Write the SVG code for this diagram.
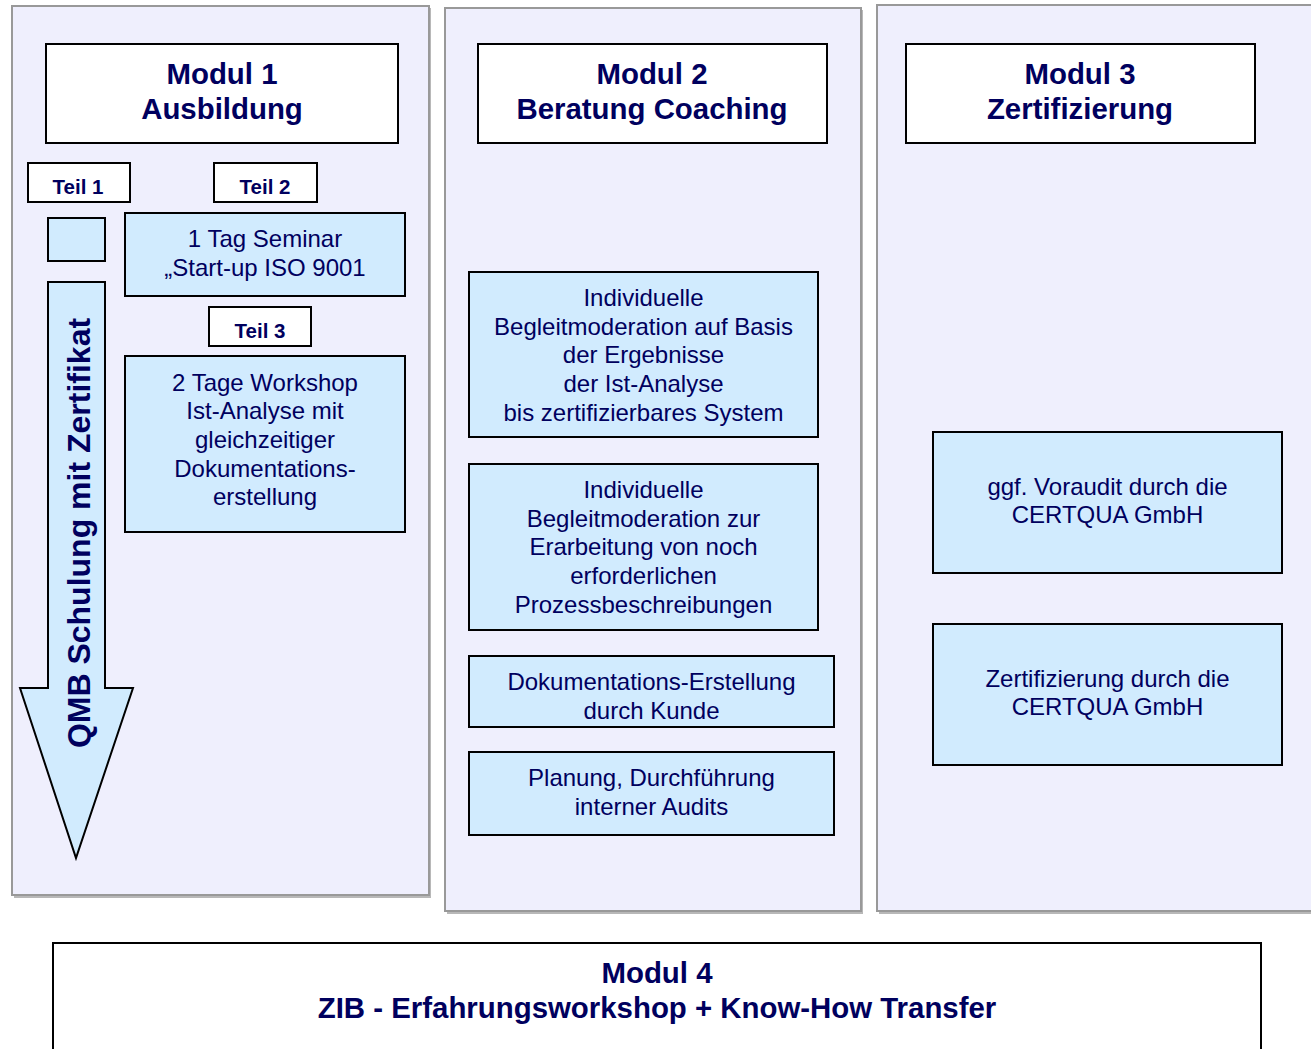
<svg xmlns="http://www.w3.org/2000/svg" width="1311" height="1049" viewBox="0 0 1311 1049">
<style>
.panel{fill:#EFEFFD;stroke:#999999;stroke-width:2}
.shadow{fill:#B8B8B8}
.head{fill:#FFFFFF;stroke:#000000;stroke-width:2}
.box{fill:#D1EBFE;stroke:#000000;stroke-width:2}
.h{font-family:"Liberation Sans",Arial,sans-serif;font-weight:bold;font-size:29.4px;fill:#00005E;text-anchor:middle}
.t{font-family:"Liberation Sans",Arial,sans-serif;font-weight:bold;font-size:20.5px;fill:#00005E;text-anchor:middle}
.b{font-family:"Liberation Sans",Arial,sans-serif;font-size:24px;fill:#00005E;text-anchor:middle}
.v{font-family:"Liberation Sans",Arial,sans-serif;font-weight:bold;font-size:32px;fill:#00005E;text-anchor:middle}
</style>
<rect width="1311" height="1049" fill="#FFFFFF"/>
<g id="panel1">
<rect class="shadow" x="14" y="8" width="417" height="890"/>
<rect class="panel" x="12" y="6" width="417" height="889"/>
</g>
<g id="panel2">
<rect class="shadow" x="447" y="10" width="416" height="904"/>
<rect class="panel" x="445" y="8" width="416" height="903"/>
</g>
<g id="panel3">
<rect class="shadow" x="879" y="7" width="440" height="907"/>
<rect class="panel" x="877" y="5" width="440" height="906"/>
</g>
<g id="modul1">
<rect class="head" x="46" y="44" width="352" height="99"/>
<text class="h" x="222" y="84">Modul 1</text>
<text class="h" x="222" y="119">Ausbildung</text>
</g>
<g id="modul2">
<rect class="head" x="478" y="44" width="349" height="99"/>
<text class="h" x="652" y="84">Modul 2</text>
<text class="h" x="652" y="119">Beratung Coaching</text>
</g>
<g id="modul3">
<rect class="head" x="906" y="44" width="349" height="99"/>
<text class="h" x="1080" y="84">Modul 3</text>
<text class="h" x="1080" y="119">Zertifizierung</text>
</g>
<g id="teil1">
<rect class="head" x="28" y="163" width="102" height="39"/>
<text class="t" x="78" y="194">Teil 1</text>
</g>
<g id="teil2">
<rect class="head" x="214" y="163" width="103" height="39"/>
<text class="t" x="265" y="194">Teil 2</text>
</g>
<g id="teil3">
<rect class="head" x="209" y="307" width="102" height="39"/>
<text class="t" x="260" y="338">Teil 3</text>
</g>
<g id="teil1box">
<rect class="box" x="48" y="218" width="57" height="43"/>
</g>
<g id="qmb-arrow">
<polygon class="box" points="48,282 105,282 105,688 133,688 76,858 20,688 48,688"/>
<text class="v" transform="translate(90,533) rotate(-90)">QMB Schulung mit Zertifikat</text>
</g>
<g id="seminar">
<rect class="box" x="125" y="213" width="280" height="83"/>
<text class="b" x="265" y="247">1 Tag Seminar</text>
<text class="b" x="265" y="276">„Start-up ISO 9001</text>
</g>
<g id="workshop">
<rect class="box" x="125" y="356" width="280" height="176"/>
<text class="b" x="265" y="391">2 Tage Workshop</text>
<text class="b" x="265" y="419">Ist-Analyse mit</text>
<text class="b" x="265" y="448">gleichzeitiger</text>
<text class="b" x="265" y="477">Dokumentations-</text>
<text class="b" x="265" y="505">erstellung</text>
</g>
<g id="begleit1">
<rect class="box" x="469" y="272" width="349" height="165"/>
<text class="b" x="643.5" y="306">Individuelle</text>
<text class="b" x="643.5" y="335">Begleitmoderation auf Basis</text>
<text class="b" x="643.5" y="363">der Ergebnisse</text>
<text class="b" x="643.5" y="392">der Ist-Analyse</text>
<text class="b" x="643.5" y="421">bis zertifizierbares System</text>
</g>
<g id="begleit2">
<rect class="box" x="469" y="464" width="349" height="166"/>
<text class="b" x="643.5" y="498">Individuelle</text>
<text class="b" x="643.5" y="527">Begleitmoderation zur</text>
<text class="b" x="643.5" y="555">Erarbeitung von noch</text>
<text class="b" x="643.5" y="584">erforderlichen</text>
<text class="b" x="643.5" y="613">Prozessbeschreibungen</text>
</g>
<g id="doku">
<rect class="box" x="469" y="656" width="365" height="71"/>
<text class="b" x="651.5" y="690">Dokumentations-Erstellung</text>
<text class="b" x="651.5" y="719">durch Kunde</text>
</g>
<g id="audits">
<rect class="box" x="469" y="752" width="365" height="83"/>
<text class="b" x="651.5" y="786">Planung, Durchführung</text>
<text class="b" x="651.5" y="815">interner Audits</text>
</g>
<g id="voraudit">
<rect class="box" x="933" y="432" width="349" height="141"/>
<text class="b" x="1107.5" y="495">ggf. Voraudit durch die</text>
<text class="b" x="1107.5" y="523">CERTQUA GmbH</text>
</g>
<g id="zert">
<rect class="box" x="933" y="624" width="349" height="141"/>
<text class="b" x="1107.5" y="687">Zertifizierung durch die</text>
<text class="b" x="1107.5" y="715">CERTQUA GmbH</text>
</g>
<g id="modul4">
<rect class="head" x="53" y="943" width="1208" height="120"/>
<text class="h" x="657" y="983">Modul 4</text>
<text class="h" x="657" y="1018">ZIB - Erfahrungsworkshop + Know-How Transfer</text>
</g>
<g id="connectors"></g>
</svg>
